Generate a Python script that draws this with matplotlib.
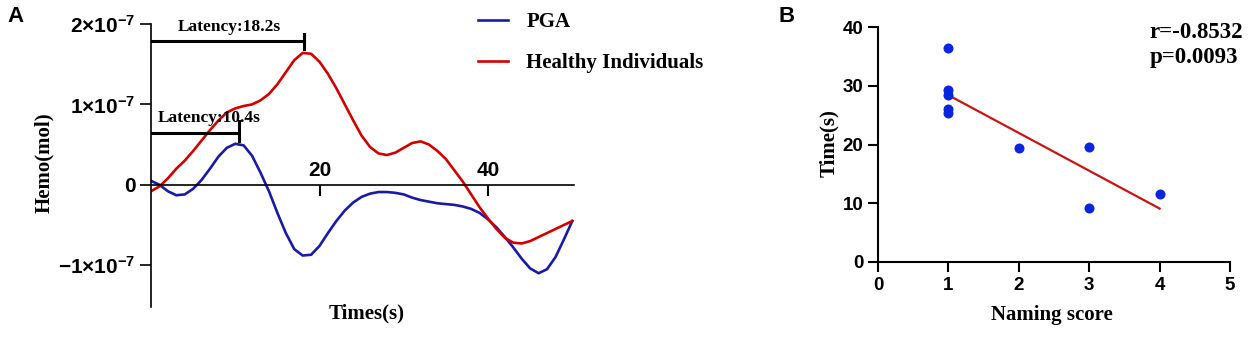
import matplotlib
matplotlib.use('Agg')
import matplotlib.pyplot as plt

plt.rcParams['mathtext.fontset'] = 'custom'
plt.rcParams['mathtext.rm'] = 'Liberation Sans:bold'
plt.rcParams['mathtext.bf'] = 'Liberation Sans:bold'
plt.rcParams['mathtext.it'] = 'Liberation Sans:bold'

SERIF = 'Liberation Serif'
SANS = 'Liberation Sans'

# panel A: hemodynamic response (units of 1e-7 mol), one value per second
times = list(range(0, 51))
healthy = [-0.08, -0.02, 0.08, 0.2, 0.3, 0.42, 0.55, 0.68, 0.8, 0.9,
           0.95, 0.98, 1.0, 1.05, 1.13, 1.25, 1.4, 1.55, 1.64, 1.63,
           1.53, 1.38, 1.2, 1.0, 0.8, 0.61, 0.47, 0.39, 0.37, 0.4,
           0.46, 0.52, 0.54, 0.5, 0.42, 0.32, 0.18, 0.04, -0.12, -0.28,
           -0.42, -0.55, -0.66, -0.72, -0.73, -0.7, -0.65, -0.6, -0.55, -0.5,
           -0.45]
pga = [0.05, 0.0, -0.08, -0.13, -0.12, -0.05, 0.06, 0.2, 0.35, 0.46,
       0.51, 0.49, 0.36, 0.15, -0.08, -0.35, -0.6, -0.8, -0.88, -0.87,
       -0.76, -0.6, -0.45, -0.32, -0.22, -0.15, -0.11, -0.09, -0.09, -0.1,
       -0.12, -0.16, -0.19, -0.21, -0.23, -0.24, -0.25, -0.27, -0.3, -0.35,
       -0.43, -0.53, -0.65, -0.78, -0.92, -1.04, -1.1, -1.05, -0.9, -0.68,
       -0.45]
latency_healthy = 18.2
latency_pga = 10.4

# panel B: naming score vs time
naming = [1, 1, 1, 1, 1, 2, 3, 3, 4]
time_s = [36.5, 29.3, 28.4, 26.1, 25.4, 19.35, 19.6, 9.2, 11.6]
fit_x = [1, 4]
fit_y = [28.4, 9.1]
r_text = 'r=-0.8532'
p_text = 'p=0.0093'

BLUE = '#1a1aa8'
RED = '#d40000'

fig = plt.figure(figsize=(12.48, 3.38), dpi=100)

# ---------------- panel A ----------------
axA = fig.add_axes([151 / 1248, 1 - 307 / 338, 423 / 1248, 283 / 338])
axA.plot(times, [v * 1e-7 for v in pga], color=BLUE, lw=1.9, label='PGA',
         solid_joinstyle='round')
axA.plot(times, [v * 1e-7 for v in healthy], color=RED, lw=1.9, label='Healthy Individuals',
         solid_joinstyle='round')
axA.set_xlim(0, 50.2)
axA.set_ylim(-1.52e-7, 2.0e-7)

for s in ['top', 'right']:
    axA.spines[s].set_visible(False)
axA.spines['bottom'].set_position(('data', 0))
axA.spines['left'].set_linewidth(1.2)
axA.spines['bottom'].set_linewidth(1.2)

axA.set_yticks([-1e-7, 0, 1e-7, 2e-7])
axA.set_yticklabels([r'$-1{\times}10^{-7}$', '0', r'$1{\times}10^{-7}$', r'$2{\times}10^{-7}$'],
                    fontsize=15, fontweight='bold', family=SANS)
axA.set_xticks([20, 40])
axA.set_xticklabels(['20', '40'], fontsize=15, fontweight='bold', family=SANS)
axA.tick_params(axis='y', direction='out', length=8, width=1.2, pad=3)
axA.tick_params(axis='x', direction='out', length=8, width=1.5, pad=-25)

# latency brackets
lat_lw = 2.2
axA.plot([0, latency_healthy], [1.79e-7, 1.79e-7], color='black', lw=lat_lw)
axA.plot([latency_healthy, latency_healthy], [1.69e-7, 1.88e-7], color='black', lw=lat_lw)
axA.text(9.3, 1.96e-7, 'Latency:%.1fs' % latency_healthy, ha='center', va='center',
         fontsize=12.5, fontweight='bold', family=SERIF)
axA.plot([0, latency_pga], [0.64e-7, 0.64e-7], color='black', lw=lat_lw)
axA.plot([latency_pga, latency_pga], [0.54e-7, 0.79e-7], color='black', lw=lat_lw)
axA.text(6.9, 0.83e-7, 'Latency:%.1fs' % latency_pga, ha='center', va='center',
         fontsize=12.5, fontweight='bold', family=SERIF)

axA.set_ylabel('Hemo(mol)', fontsize=15, fontweight='bold', family=SERIF)
axA.yaxis.set_label_coords(-0.23, 0.509)
axA.set_xlabel('Times(s)', fontsize=15, fontweight='bold', family=SERIF)
axA.xaxis.set_label_coords(0.51, 0.014)

fig.legend(loc='upper left', bbox_to_anchor=(468 / 1248, 1 - 2 / 338), frameon=False,
           prop={'family': SERIF, 'weight': 'bold', 'size': 15},
           handlelength=1.4, handletextpad=0.9, labelspacing=1.0, borderpad=0)

fig.text(16 / 1248, 1 - 17 / 338, 'A', fontsize=16, fontweight='bold', family=SANS,
         ha='center', va='center')
fig.text(787 / 1248, 1 - 17 / 338, 'B', fontsize=16, fontweight='bold', family=SANS,
         ha='center', va='center')

# ---------------- panel B ----------------
axB = fig.add_axes([878 / 1248, 1 - 262 / 338, 352 / 1248, 235 / 338])
axB.scatter(naming, time_s, s=52, color='#0a24e0', zorder=3, linewidths=0)
axB.plot(fit_x, fit_y, color='#c81414', lw=1.6, zorder=2)
axB.set_xlim(0, 5)
axB.set_ylim(0, 40)
for s in ['top', 'right']:
    axB.spines[s].set_visible(False)
for s in ['left', 'bottom']:
    axB.spines[s].set_linewidth(1.5)
axB.set_xticks([0, 1, 2, 3, 4, 5])
axB.set_yticks([0, 10, 20, 30, 40])
axB.tick_params(axis='both', direction='out', length=7, width=1.5, labelsize=13.5)
for lab in axB.get_xticklabels() + axB.get_yticklabels():
    lab.set_fontweight('bold')
    lab.set_family(SANS)
axB.set_xlabel('Naming score', fontsize=15, fontweight='bold', family=SERIF)
axB.xaxis.set_label_coords(0.494, -0.183)
axB.set_ylabel('Time(s)', fontsize=15, fontweight='bold', family=SERIF)
axB.yaxis.set_label_coords(-0.11, 0.506)

fig.text(1243 / 1248, 1 - 32 / 338, r_text, fontsize=16.5, fontweight='bold', family=SERIF,
         ha='right', va='center')
fig.text(1238 / 1248, 1 - 58 / 338, p_text, fontsize=16.5, fontweight='bold', family=SERIF,
         ha='right', va='center')

fig.savefig('out.png', dpi=100)
